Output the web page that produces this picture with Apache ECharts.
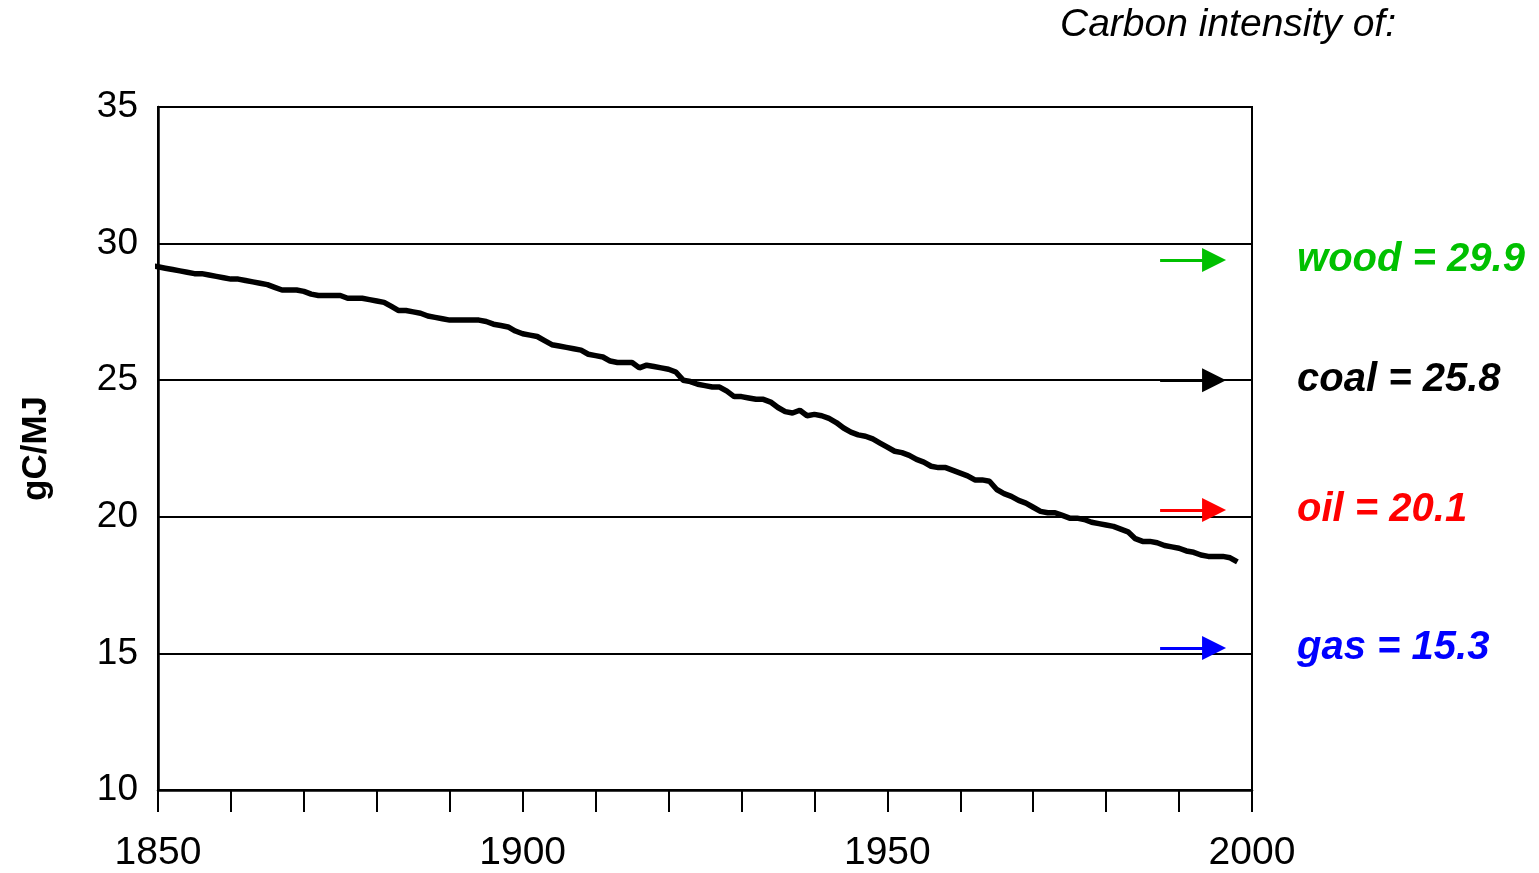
<!DOCTYPE html>
<html>
<head>
<meta charset="utf-8">
<script src="https://cdn.jsdelivr.net/npm/echarts@6/dist/echarts.min.js"></script>
<style>
    html, body { margin: 0; padding: 0; background: #fff; }
    #chart { width: 1539px; height: 873px; }
</style>
</head>
<body>
<div id="chart"></div>
<script>
/* years and carbon intensity */
var years = [];
for (var y = 1849; y <= 1998; y++) years.push(y);

var intensity = [
    29.2,
    29.15, 29.1, 29.05, 29.0, 28.95, 28.9, 28.9, 28.85, 28.8, 28.75,
    28.7, 28.7, 28.65, 28.6, 28.55, 28.5, 28.4, 28.3, 28.3, 28.3,
    28.25, 28.15, 28.1, 28.1, 28.1, 28.1, 28.0, 28.0, 28.0, 27.95,
    27.9, 27.85, 27.7, 27.55, 27.55, 27.5, 27.45, 27.35, 27.3, 27.25,
    27.2, 27.2, 27.2, 27.2, 27.2, 27.15, 27.05, 27.0, 26.95, 26.8,
    26.7, 26.65, 26.6, 26.45, 26.3, 26.25, 26.2, 26.15, 26.1, 25.95,
    25.9, 25.85, 25.7, 25.65, 25.65, 25.65, 25.45, 25.55, 25.5, 25.45,
    25.4, 25.3, 25.0, 24.95, 24.85, 24.8, 24.75, 24.75, 24.6, 24.4,
    24.4, 24.35, 24.3, 24.3, 24.2, 24.0, 23.85, 23.8, 23.9, 23.7,
    23.75, 23.7, 23.6, 23.45, 23.25, 23.1, 23.0, 22.95, 22.85, 22.7,
    22.55, 22.4, 22.35, 22.25, 22.1, 22.0, 21.85, 21.8, 21.8, 21.7,
    21.6, 21.5, 21.35, 21.35, 21.3, 21.0, 20.85, 20.75, 20.6, 20.5,
    20.35, 20.2, 20.15, 20.15, 20.05, 19.95, 19.95, 19.9, 19.8, 19.75,
    19.7, 19.65, 19.55, 19.45, 19.2, 19.1, 19.1, 19.05, 18.95, 18.9,
    18.85, 18.75, 18.7, 18.6, 18.55, 18.55, 18.55, 18.5, 18.35
];

/* fuel reference values (labels) and where the arrows sit */
var fuels = ['wood', 'coal', 'oil', 'gas'];
var fuelValues = ['29.9', '25.8', '20.1', '15.3'];
var arrowLevels = [29.4, 25.0, 20.25, 15.2];
var fuelColors = ['#00c000', '#000000', '#ff0000', '#0000ff'];
var arrowFrom = 1987.4, arrowTo = 1994.8;

var xTicks = [1850, 1900, 1950, 2000];
var yTicks = [10, 15, 20, 25, 30, 35];

var FONT = '"Liberation Sans", Arial, sans-serif';

var box = document.getElementById('chart');
var myChart = echarts.init(box);

var lineData = years.map(function(yr, i) { return [yr, intensity[i]]; });

var arrows = fuels.map(function(name, i) {
    return [
        { coord: [arrowFrom, arrowLevels[i]],
          lineStyle: { color: fuelColors[i], width: 3, type: 'solid' },
          label: {
              show: true,
              position: 'end',
              distance: 83,
              formatter: name + ' = ' + fuelValues[i],
              color: fuelColors[i],
              fontFamily: FONT,
              fontSize: 40,
              fontWeight: 'bold',
              fontStyle: 'italic'
          },
          itemStyle: { color: fuelColors[i] }
        },
        { coord: [arrowTo, arrowLevels[i]] }
    ];
});

var option = {
    animation: false,
    backgroundColor: '#fff',
    title: {
        text: 'Carbon intensity of:',
        left: 1060,
        top: 6,
        padding: 0,
        textStyle: {
            fontFamily: FONT,
            fontSize: 39,
            fontStyle: 'italic',
            fontWeight: 'normal',
            color: '#000'
        }
    },
    grid: {
        left: 158,
        top: 107,
        width: 1094,
        height: 685,
        show: true,
        borderColor: '#000',
        borderWidth: 2,
        containLabel: false
    },
    xAxis: {
        type: 'value',
        min: 1850,
        max: 2000,
        interval: 10,
        axisLine: { lineStyle: { color: '#000', width: 2.5 } },
        axisTick: { show: true, inside: false, length: 22, lineStyle: { color: '#000', width: 2 } },
        axisLabel: {
            margin: 44,
            color: '#000',
            fontFamily: FONT,
            fontSize: 39,
            formatter: function(v) { return xTicks.indexOf(v) >= 0 ? String(v) : ''; }
        },
        splitLine: { show: false }
    },
    yAxis: {
        type: 'value',
        min: yTicks[0],
        max: yTicks[yTicks.length - 1],
        interval: 5,
        name: 'gC/MJ',
        nameLocation: 'middle',
        nameRotate: 90,
        nameGap: 104,
        nameTextStyle: {
            fontFamily: FONT,
            fontSize: 35,
            fontWeight: 'bold',
            color: '#000'
        },
        axisLine: { lineStyle: { color: '#000', width: 2.5 } },
        axisTick: { show: false },
        axisLabel: {
            margin: 20,
            color: '#000',
            fontFamily: FONT,
            fontSize: 37,
            lineHeight: 37,
            padding: [12, 0, 0, 0]
        },
        splitLine: { show: true, lineStyle: { color: '#000', width: 2 } }
    },
    series: [
        {
            name: 'intensity',
            type: 'line',
            data: lineData,
            showSymbol: false,
            clip: false,
            smooth: false,
            lineStyle: { color: '#000', width: 5.5 },
            markLine: {
                silent: true,
                symbol: ['none', 'triangle'],
                symbolSize: 24,
                data: arrows
            }
        }
    ]
};

myChart.setOption(option);
</script>
</body>
</html>
